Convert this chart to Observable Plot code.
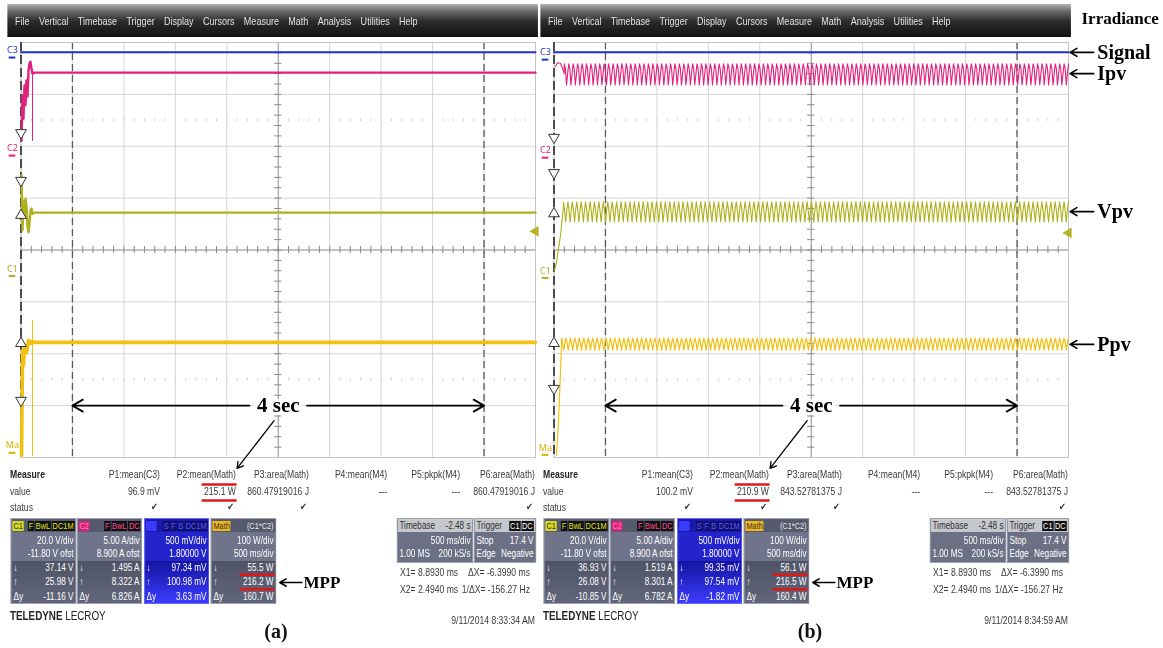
<!DOCTYPE html>
<html>
<head>
<meta charset="utf-8">
<script src="https://cdn.jsdelivr.net/npm/d3@7"></script>
<script src="https://cdn.jsdelivr.net/npm/@observablehq/plot@0.6"></script>
<style>
  html,body{margin:0;padding:0;background:#fff;}
  #page{position:relative;width:1163px;height:648px;overflow:hidden;
        font-family:"Liberation Sans",Arial,sans-serif;}
  .scope{position:absolute;top:0;height:648px;}
  .scope svg{position:absolute;left:0;top:0;}
  .cond{position:absolute;left:0;top:0;height:648px;transform:scaleX(0.82);transform-origin:0 0;}
  .menu{position:absolute;top:4px;height:33px;box-sizing:border-box;
        background:linear-gradient(to bottom,#b4b4b4 0%,#6e6e6e 20%,#2c2c2c 52%,#121212 100%);
        color:#e2e2e2;font-size:11px;display:flex;align-items:center;gap:11.4px;}
  .t{position:absolute;white-space:nowrap;font-size:10.5px;color:#3a3a3a;line-height:14px;}
  .r{transform:translateX(-100%);}
  .ck{font-family:"DejaVu Sans",sans-serif;font-size:10px;color:#333;}
  .box{position:absolute;top:518px;height:86px;box-sizing:border-box;overflow:hidden;
       background:#70748a;color:#fff;font-size:10px;border:1px solid #9ea2b4;}
  .box.blue{background:#2424cc;border-color:#6b6bff;}
  .hdr{position:absolute;left:0;right:0;top:0;height:13px;display:flex;align-items:center;gap:1px;padding:0 1px;background:#555a6c;}
  .blue .hdr{background:#1a1aa8;}
  .chip{font-size:9px;line-height:10px;padding:0 1px;}
  .k{background:#111;}
  .sp{flex:1;}
  .row{position:absolute;right:2px;left:2px;height:12px;line-height:12px;text-align:right;display:flex;justify-content:space-between;white-space:nowrap;}
  .low{position:absolute;left:0;right:0;top:42px;bottom:0;background:linear-gradient(#4f5366,#62667a);}
  .blue .low{background:linear-gradient(#1414a0,#3c3cff);}
  .tb{position:absolute;top:518px;height:45px;box-sizing:border-box;background:#6c7084;color:#fff;font-size:10px;border:1px solid #a0a3b2;overflow:hidden;}
  .tb .hdr{background:#c6c7cc;color:#333;}
  .cap{position:absolute;top:620px;font-family:"Liberation Serif",serif;font-weight:bold;font-size:20px;color:#111;transform:translateX(-50%);}
  .logo{position:absolute;top:609px;font-size:12px;color:#262626;}
</style>
</head>
<body>
<div id="page"></div>
<script>
// ---------------- data ----------------
const menuItems = ["File","Vertical","Timebase","Trigger","Display","Cursors","Measure","Math","Analysis","Utilities","Help"];

// time axis: 10 divisions x 500 ms/div ; vertical: 8 divisions (levels in divisions from centre)
const timeGrid = [0,0.5,1,1.5,2,2.5,3,3.5,4,4.5,5];
const divGrid = [-4,-3,-2,-1,0,1,2,3,4];
const cursorTimes = [0.5, 4.5];

const traceNames = ["Signal","Ipv","Vpv","Ppv"];
const traceColors = ["#1f2fd2","#e3207c","#b0b01c","#f2c010"];
const traceWidthA = [2, 2.4, 2.4, 3.6];
const traceWidthB = [2, 1.1, 1.1, 1.2];
const levelA = [3.81, 3.42, 0.72, -1.78];
const levelB = [3.81, 3.40, 0.74, -1.82];

// start-up transients, panel (a)
const ipvStartA_t = [0.005,0.015,0.024,0.034,0.044,0.053,0.063,0.073,0.083,0.092,0.102,0.112,0.131];
const ipvStartA_y = [2.11,2.98,2.53,3.17,2.79,3.27,2.96,3.46,3.60,3.63,3.49,3.40,3.42];
const vpvStartA_t = [0.005,0.015,0.024,0.034,0.044,0.053,0.063,0.073,0.083,0.092,0.102,0.112,0.131];
const vpvStartA_y = [1.44,0.38,0.95,0.67,0.99,0.86,0.47,0.34,0.53,0.76,0.80,0.70,0.72];
const ppvStartA_t = [0.005,0.015,0.024,0.034,0.053,0.073,0.092,0.112,0.131];
const ppvStartA_y = [-3.96,-1.94,-2.23,-1.84,-1.98,-1.74,-1.80,-1.76,-1.78];
const ipvGhostA_y = [3.49, 2.11];
const ppvGhostA_y = [-1.36, -3.96];

// start-up transients, panel (b)
const ipvStartB_t = [0.015,0.034,0.063,0.083,0.10];
const ipvStartB_y = [3.54,3.61,3.60,3.50,3.40];
const vpvStartB_t = [0.005,0.024,0.063,0.092];
const vpvStartB_y = [-0.40,-0.24,0.28,0.84];
const ppvStartB_t = [0.024,0.044,0.073];
const ppvStartB_y = [-3.96,-3.29,-1.84];

// ripple in panel (b): one cycle shape (divisions about the level) and cycle count
const ipvCycleB = [0.19, 0.10, -0.22, -0.01];
const vpvCycleB = [0.19, 0.02, -0.20, 0.03];
const ppvCycleB = [0.12, 0.04, -0.11, 0.02];
const cyclesB = 114;

// channel tags on the left edge
const chanTagText = ["C3","C2","C1","Ma"];
const chanTagColor = ["#2233cc","#e0207a","#b0b020","#e0b000"];
const chanTagYA = [3.85, 1.96, -0.36, -3.77];
const chanTagYB = [3.81, 1.92, -0.40, -3.81];
const markerYA = [2.26, 1.34, 0.67, -1.80, -2.90];
const markerYB = [2.17, 1.49, 0.70, -1.80, -2.67];
const markerRot = [180, 180, 0, 0, 180];
const trigLevelA = 0.36, trigLevelB = 0.33;

// measurement table
const measureHeaders = ["P1:mean(C3)","P2:mean(Math)","P3:area(Math)","P4:mean(M4)","P5:pkpk(M4)","P6:area(Math)"];
const measureValuesA = ["96.9 mV","215.1 W","860.47919016 J","---","---","860.47919016 J"];
const measureValuesB = ["100.2 mV","210.9 W","843.52781375 J","---","---","843.52781375 J"];
const measureStatus = [true,true,true,false,false,true];

// channel boxes
const chanLabels = ["C1","C2","C3","Math"];
const chanScale  = ["20.0 V/div","5.00 A/div","500 mV/div","100 W/div"];
const chanOffset = ["-11.80 V ofst","8.900 A ofst","1.80000 V","500 ms/div"];
const chanMinA   = ["37.14 V","1.495 A","97.34 mV","55.5 W"];
const chanMaxA   = ["25.98 V","8.322 A","100.98 mV","216.2 W"];
const chanDeltaA = ["-11.16 V","6.826 A","3.63 mV","160.7 W"];
const chanMinB   = ["36.93 V","1.519 A","99.35 mV","56.1 W"];
const chanMaxB   = ["26.08 V","8.301 A","97.54 mV","216.5 W"];
const chanDeltaB = ["-10.85 V","6.782 A","-1.82 mV","160.4 W"];

const timebaseText = ["Timebase","-2.48 s","500 ms/div","1.00 MS","200 kS/s"];
const triggerText = ["Trigger","Stop","17.4 V","Edge","Negative"];
const cursorText = ["X1= 8.8930 ms","ΔX= -6.3990 ms","X2= 2.4940 ms","1/ΔX= -156.27 Hz"];
const dates = ["9/11/2014 8:33:34 AM","9/11/2014 8:34:59 AM"];
const captions = ["(a)","(b)"];

// ---------------- helpers ----------------
const pts = (ts, ys) => ts.map((t, i) => ({t, y: ys[i]}));
function ripple(start, level, cycle, n) {
  const out = [];
  const period = (5 - start) / n;
  for (let i = 0; i < n; i++) cycle.forEach((v, j) => out.push({t: start + period * (i + j / cycle.length), y: level + v}));
  out.push({t: 5, y: level + cycle[0]});
  return out;
}

const tracesA = [
  [{t:0, y:levelA[0]}, {t:5, y:levelA[0]}],
  pts(ipvStartA_t, ipvStartA_y).concat([{t:5, y:levelA[1]}]),
  pts(vpvStartA_t, vpvStartA_y).concat([{t:5, y:levelA[2]}]),
  pts(ppvStartA_t, ppvStartA_y).concat([{t:5, y:levelA[3]}])
];
const tracesB = [
  [{t:0, y:levelB[0]}, {t:5, y:levelB[0]}],
  pts(ipvStartB_t, ipvStartB_y).concat(ripple(ipvStartB_t.at(-1), levelB[1], ipvCycleB, cyclesB)),
  pts(vpvStartB_t, vpvStartB_y).concat(ripple(vpvStartB_t.at(-1), levelB[2], vpvCycleB, cyclesB)),
  pts(ppvStartB_t, ppvStartB_y).concat(ripple(ppvStartB_t.at(-1), levelB[3], ppvCycleB, cyclesB))
];

const minorT = d3.range(0, 5.001, 0.1);
const minorY = d3.range(-4, 4.001, 0.2);
const serif = "Liberation Serif";

function scopePlot(p) {
  const marks = [
    Plot.ruleX(timeGrid, {stroke: "#d6d6d6"}),
    Plot.ruleY(divGrid, {stroke: "#d6d6d6"}),
    Plot.ruleX(minorT, {y1: 2.475, y2: 2.525, stroke: "#cfcfcf"}),
    Plot.ruleX(minorT, {y1: -2.525, y2: -2.475, stroke: "#cfcfcf"}),
    Plot.ruleY([0], {stroke: "#9c9c9c"}),
    Plot.ruleX([2.5], {stroke: "#9c9c9c"}),
    Plot.ruleX(minorT, {y1: -0.07, y2: 0.07, stroke: "#8a8a8a"}),
    Plot.ruleY(minorY, {x1: 2.465, x2: 2.535, stroke: "#8a8a8a"}),
    Plot.ruleX(cursorTimes, {stroke: "#5a5a5a", strokeWidth: 1.3, strokeDasharray: "7,4"}),
    Plot.frame({stroke: "#c4c4c4"}),
    Plot.ruleX([0], {stroke: "#2a2a2a", strokeWidth: 1.6, strokeDasharray: "9,4"}),
  ];
  if (p.ghosts) p.ghosts.forEach(g => marks.push(Plot.line(g.data, {x: "t", y: "y", stroke: g.color, strokeWidth: 1})));
  p.traces.forEach((tr, i) => marks.push(Plot.line(tr, {x: "t", y: "y", stroke: traceColors[i], strokeWidth: p.widths[i]})));
  const tags = chanTagText.map((text, i) => ({text, y: p.tagY[i], color: chanTagColor[i]}));
  marks.push(
    Plot.text(tags, {x: -0.083, y: "y", text: "text", fill: "color", fontSize: 9}),
    Plot.ruleY(tags, {y: d => d.y - 0.14, x1: -0.115, x2: -0.05, stroke: "color", strokeWidth: 2}),
    Plot.dot(p.markerY.map((y, i) => ({y, rot: markerRot[i]})), {x: 0, y: "y", symbol: "triangle", rotate: "rot", r: 4, fill: "white", stroke: "#333", strokeWidth: 1}),
    Plot.dot([{y: p.trig}], {x: 5, y: "y", symbol: "triangle", rotate: -90, r: 4, fill: "#b4b428"})
  );
  marks.push(
    Plot.arrow([{x1: 2.22, x2: cursorTimes[0]}, {x1: 2.78, x2: cursorTimes[1]}], {x1: "x1", x2: "x2", y1: -3, y2: -3, stroke: "black", strokeWidth: 1.8, headLength: 10}),
    Plot.text(["4 sec"], {x: 2.5, y: -3, text: d => d, fontFamily: serif, fontWeight: "bold", fontSize: 21, fill: "black", stroke: "white", strokeWidth: 6, paintOrder: "stroke"}),
    Plot.arrow([{x1: 2.46, y1: -3.29, x2: 2.10, y2: -4.21}], {x1: "x1", y1: "y1", x2: "x2", y2: "y2", stroke: "black", strokeWidth: 1.3, headLength: 8}),
    Plot.ruleY([-4.52, -4.83], {x1: 1.76, x2: 2.10, stroke: "#e01818", strokeWidth: 2.5}),
    Plot.ruleY([-6.26, -6.54], {x1: 2.13, x2: 2.47, stroke: "#e01818", strokeWidth: 2.5}),
    Plot.arrow([{x1: 2.73, x2: 2.515}], {x1: "x1", x2: "x2", y1: -6.41, y2: -6.41, stroke: "black", strokeWidth: 1.6, headLength: 8}),
    Plot.text(["MPP"], {x: 2.745, y: -6.41, text: d => d, textAnchor: "start", fontFamily: serif, fontWeight: "bold", fontSize: 17, fill: "black"})
  );
  if (p.labels) {
    const lab = traceNames.map((name, i) => ({name, y: levelB[i]}));
    marks.push(
      Plot.text(["Irradiance"], {x: 5.126, y: 4.46, text: d => d, textAnchor: "start", fontFamily: serif, fontWeight: "bold", fontSize: 17, fill: "black"}),
      Plot.arrow(lab, {x1: 5.245, x2: 5.015, y1: "y", y2: "y", stroke: "black", strokeWidth: 1.6, headLength: 8}),
      Plot.text(lab, {x: 5.28, y: "y", text: "name", textAnchor: "start", fontFamily: serif, fontWeight: "bold", fontSize: 20, fill: "black"})
    );
  }
  return Plot.plot({
    width: p.width, height: 648,
    marginLeft: 20.5, marginRight: p.width - 535, marginTop: 42, marginBottom: 191,
    x: {domain: [0, 5], axis: null},
    y: {domain: [-4, 4], axis: null},
    style: {background: "transparent", overflow: "visible"},
    marks
  });
}

function chipHeader(i) {
  if (i === 0) return `<span class="chip" style="background:#d8d820;color:#333">C1</span><span class="sp"></span>` +
    ["F","BwL","DC1M"].map(c => `<span class="chip k" style="color:#e4e428">${c}</span>`).join("");
  if (i === 1) return `<span class="chip" style="background:#e0207a;color:#ff8fc0">C2</span><span class="sp"></span>` +
    ["F","BwL","DC"].map(c => `<span class="chip k" style="color:#ff4a9a">${c}</span>`).join("");
  if (i === 2) return `<span class="chip" style="background:#3a3aff;color:#3a3aff">C3</span><span class="sp"></span>` +
    ["S","F","B","DC1M"].map(c => `<span class="chip" style="background:#10106a;color:#5a5aff">${c}</span>`).join("");
  return `<span class="chip" style="background:#f2b81a;color:#333">Math</span><span class="sp"></span><span class="chip" style="color:#e8e8e8">(C1*C2)</span>`;
}

const K = 0.82;            // horizontal condensing of the scope's narrow UI font
const X = v => (v / K).toFixed(1) + "px";

function bottomHTML(p) {
  let h = `<div class="menu" style="left:${X(7)};width:${X(531)};padding-left:${X(8)}">${menuItems.map(m => `<span>${m}</span>`).join("")}</div>`;
  h += `<div class="t" style="left:${X(10)};top:467px;font-weight:bold;color:#222">Measure</div>`;
  h += `<div class="t" style="left:${X(10)};top:484px">value</div>`;
  h += `<div class="t" style="left:${X(10)};top:500px">status</div>`;
  const colRight = [160, 236, 309, 387, 460, 535];
  measureHeaders.forEach((m, i) => {
    h += `<div class="t r" style="left:${X(colRight[i])};top:467px">${m}</div>`;
    h += `<div class="t r" style="left:${X(colRight[i])};top:484px">${p.values[i]}</div>`;
    if (measureStatus[i]) h += `<div class="t r ck" style="left:${X(colRight[i] - 2)};top:500px">✔</div>`;
  });
  const boxLeft = [11, 77, 144, 211];
  chanLabels.forEach((c, i) => {
    h += `<div class="box${i === 2 ? " blue" : ""}" style="left:${X(boxLeft[i])};width:${X(65)}">
      <div class="hdr">${chipHeader(i)}</div>
      <div class="row" style="top:16px;justify-content:flex-end">${chanScale[i]}</div>
      <div class="row" style="top:29px;justify-content:flex-end">${chanOffset[i]}</div>
      <div class="low">
        <div class="row" style="top:1px"><span>↓</span><span>${p.min[i]}</span></div>
        <div class="row" style="top:15px"><span>↑</span><span>${p.max[i]}</span></div>
        <div class="row" style="top:30px"><span>Δy</span><span>${p.delta[i]}</span></div>
      </div></div>`;
  });
  h += `<div class="tb" style="left:${X(397)};width:${X(76)}">
      <div class="hdr" style="justify-content:space-between;font-size:10px;padding:0 2px"><span>${timebaseText[0]}</span><span>${timebaseText[1]}</span></div>
      <div class="row" style="top:16px;justify-content:flex-end">${timebaseText[2]}</div>
      <div class="row" style="top:29px"><span>${timebaseText[3]}</span><span>${timebaseText[4]}</span></div></div>`;
  h += `<div class="tb" style="left:${X(474)};width:${X(62)}">
      <div class="hdr" style="font-size:10px;padding:0 2px"><span>${triggerText[0]}</span><span class="sp"></span><span class="chip k" style="color:#fff">C1</span><span class="chip k" style="color:#fff">DC</span></div>
      <div class="row" style="top:16px"><span>${triggerText[1]}</span><span>${triggerText[2]}</span></div>
      <div class="row" style="top:29px"><span>${triggerText[3]}</span><span>${triggerText[4]}</span></div></div>`;
  h += `<div class="t" style="left:${X(400)};top:565px">${cursorText[0]}</div>`;
  h += `<div class="t r" style="left:${X(530)};top:565px">${cursorText[1]}</div>`;
  h += `<div class="t" style="left:${X(400)};top:582px">${cursorText[2]}</div>`;
  h += `<div class="t r" style="left:${X(530)};top:582px">${cursorText[3]}</div>`;
  h += `<div class="t r" style="left:${X(535)};top:613px">${p.date}</div>`;
  h += `<div class="logo" style="left:${X(10)}"><b>TELEDYNE</b> LECROY</div>`;
  return h;
}

const panels = [
  {left: 0, width: 540, traces: tracesA, widths: traceWidthA, tagY: chanTagYA, markerY: markerYA, trig: trigLevelA,
   ghosts: [{data: [{t: 0.112, y: ipvGhostA_y[0]}, {t: 0.112, y: ipvGhostA_y[1]}], color: traceColors[1]},
            {data: [{t: 0.112, y: ppvGhostA_y[0]}, {t: 0.112, y: ppvGhostA_y[1]}], color: traceColors[3]}],
   values: measureValuesA, min: chanMinA, max: chanMaxA, delta: chanDeltaA, date: dates[0], caption: captions[0], capX: 276, labels: false},
  {left: 533, width: 630, traces: tracesB, widths: traceWidthB, tagY: chanTagYB, markerY: markerYB, trig: trigLevelB,
   values: measureValuesB, min: chanMinB, max: chanMaxB, delta: chanDeltaB, date: dates[1], caption: captions[1], capX: 277, labels: true}
];

const page = document.getElementById("page");
panels.forEach(p => {
  const s = document.createElement("div");
  s.className = "scope";
  s.style.left = p.left + "px";
  s.style.width = p.width + "px";
  const c = document.createElement("div");
  c.className = "cond";
  c.style.width = (p.width / K) + "px";
  c.innerHTML = bottomHTML(p);
  s.appendChild(c);
  const cap = document.createElement("div");
  cap.className = "cap";
  cap.style.left = p.capX + "px";
  cap.textContent = p.caption;
  s.appendChild(cap);
  s.appendChild(scopePlot(p));
  page.appendChild(s);
});
</script>
</body>
</html>
